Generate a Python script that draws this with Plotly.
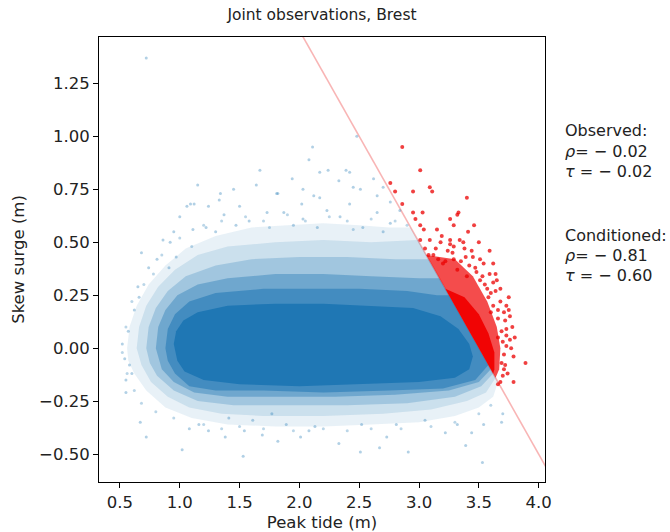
import plotly.graph_objects as go

# ---------------- data ----------------
threshold = 3.5                     # conditioning line: tide + surge = 3.5
line_x = [1.9, 4.2]

# density envelopes of the observed cloud (outer -> inner)
cloud_l1_x = [0.56, 0.58, 0.64, 0.74, 0.88, 1.05, 1.3, 1.6, 1.9, 2.2, 2.5, 2.75, 2.93, 3.66, 3.62, 3.5, 3.3, 3.0, 2.6, 2.2, 1.8, 1.4, 1.1, 0.88, 0.72, 0.62, 0.57]
cloud_l1_y = [0.0, 0.1, 0.2, 0.3, 0.39, 0.47, 0.53, 0.57, 0.58, 0.59, 0.58, 0.57, 0.57, -0.16, -0.23, -0.28, -0.32, -0.35, -0.36, -0.37, -0.37, -0.36, -0.33, -0.28, -0.2, -0.12, -0.06]
cloud_l2_x = [0.64, 0.66, 0.72, 0.82, 0.96, 1.15, 1.4, 1.8, 2.2, 2.6, 2.99, 3.64, 3.56, 3.4, 3.1, 2.7, 2.2, 1.7, 1.35, 1.08, 0.9, 0.76, 0.68]
cloud_l2_y = [0.0, 0.1, 0.2, 0.29, 0.37, 0.44, 0.48, 0.5, 0.51, 0.5, 0.51, -0.14, -0.21, -0.25, -0.29, -0.31, -0.32, -0.32, -0.31, -0.28, -0.23, -0.16, -0.08]
cloud_l3_x = [0.72, 0.74, 0.8, 0.9, 1.05, 1.3, 1.6, 2.0, 2.4, 2.8, 3.08, 3.62, 3.52, 3.3, 2.9, 2.4, 1.9, 1.45, 1.15, 0.95, 0.81, 0.75]
cloud_l3_y = [0.0, 0.1, 0.19, 0.27, 0.34, 0.39, 0.42, 0.43, 0.43, 0.42, 0.42, -0.12, -0.18, -0.23, -0.26, -0.27, -0.27, -0.27, -0.25, -0.2, -0.13, -0.07]
cloud_l4_x = [0.8, 0.82, 0.88, 0.98, 1.15, 1.4, 1.8, 2.2, 2.6, 3.0, 3.17, 3.6, 3.5, 3.25, 2.8, 2.3, 1.8, 1.4, 1.12, 0.95, 0.85]
cloud_l4_y = [0.0, 0.1, 0.18, 0.25, 0.3, 0.33, 0.35, 0.35, 0.34, 0.33, 0.33, -0.1, -0.16, -0.2, -0.22, -0.23, -0.23, -0.23, -0.21, -0.16, -0.1]
cloud_l5_x = [0.88, 0.9, 0.96, 1.08, 1.3, 1.7, 2.1, 2.5, 2.9, 3.15, 3.25, 3.58, 3.47, 3.2, 2.75, 2.2, 1.7, 1.3, 1.08, 0.96, 0.9]
cloud_l5_y = [0.0, 0.09, 0.16, 0.22, 0.26, 0.28, 0.28, 0.28, 0.27, 0.25, 0.25, -0.08, -0.15, -0.19, -0.2, -0.21, -0.2, -0.2, -0.18, -0.12, -0.06]
cloud_l6_x = [0.95, 0.97, 1.03, 1.15, 1.4, 1.8, 2.2, 2.6, 2.95, 3.18, 3.33, 3.42, 3.45, 3.42, 3.3, 3.0, 2.5, 2.0, 1.5, 1.2, 1.04, 0.98]
cloud_l6_y = [0.02, 0.08, 0.13, 0.17, 0.2, 0.21, 0.21, 0.2, 0.19, 0.15, 0.09, 0.02, -0.04, -0.1, -0.14, -0.16, -0.17, -0.18, -0.17, -0.15, -0.11, -0.06]

# sparse observed points (outside the dense cloud)
obs_x = [0.72, 2.11, 2.08, 1.67, 1.94, 1.15, 1.64, 2.17, 2.24, 2.39, 2.42, 2.33, 2.62, 1.45, 1.34, 1.81,
         2.03, 2.17, 2.12, 1.09, 1.00, 0.92, 0.86, 2.70, 2.76, 2.65, 2.45, 2.84, 2.51, 0.68, 0.65, 1.06,
         1.12, 0.81, 0.74, 1.24, 1.33, 1.50, 0.91, 0.97, 0.66, 1.11, 1.22, 1.37, 1.82, 2.02, 2.23, 2.42,
         2.65, 1.73, 1.87, 2.34, 2.76, 2.03, 2.53, 2.48, 1.58, 1.47, 1.95, 2.15, 2.70, 1.30, 0.95,
         0.55, 0.55, 0.67, 0.72, 1.02, 1.53, 1.24, 1.38, 1.54, 1.69, 1.82, 2.01, 1.08, 1.16, 1.89, 2.08,
         1.61, 1.41, 1.77, 0.58, 2.33, 2.51, 2.67, 2.91, 3.39, 3.53, 2.73, 3.22, 2.13, 2.52, 3.05, 3.44,
         3.70, 3.69, 3.54, 2.81, 3.32, 0.52, 0.57, 0.60, 0.62, 0.54]
obs_y = [1.37, 0.95, 0.89, 0.84, 0.80, 0.77, 0.77, 0.83, 0.84, 0.84, 0.83, 0.79, 0.80, 0.75, 0.73, 0.73,
         0.75, 0.71, 0.72, 0.68, 0.62, 0.50, 0.51, 0.76, 0.69, 0.72, 0.76, 0.65, 0.75, 0.45, 0.29, 0.67,
         0.68, 0.42, 0.38, 0.67, 0.70, 0.67, 0.38, 0.43, 0.24, 0.56, 0.57, 0.63, 0.73, 0.68, 0.65, 0.68,
         0.64, 0.64, 0.64, 0.62, 0.59, 0.61, 0.57, 1.00, 0.60, 0.58, 0.58, 0.57, 0.55, 0.55, 0.55,
         -0.21, -0.15, -0.35, -0.42, -0.48, -0.51, -0.39, -0.42, -0.39, -0.41, -0.44, -0.42, -0.38, -0.36, -0.36, -0.39,
         -0.34, -0.33, -0.31, -0.08, -0.45, -0.49, -0.47, -0.49, -0.46, -0.54, -0.42, -0.40, -0.37, -0.36, -0.34, -0.40,
         -0.31, -0.35, -0.36, -0.36, -0.36, 0.02, 0.08, -0.12, 0.18, -0.05]

# observed points along the edge of the halo
edge_x = [1.00, 1.20, 1.35, 1.55, 1.70, 1.90, 2.05, 2.25, 2.40, 2.60, 2.80, 1.10, 0.85, 0.78, 0.70, 2.90, 2.45, 1.75,
          0.80, 0.95, 1.20, 1.35, 1.50, 1.70, 1.95, 2.20, 2.40, 2.60, 2.85, 3.10, 3.30, 3.50, 3.60,
          0.60, 0.55, 0.52, 0.56, 0.62, 0.68]
edge_y = [0.52, 0.58, 0.60, 0.62, 0.60, 0.63, 0.60, 0.62, 0.60, 0.61, 0.60, 0.48, 0.44, 0.35, 0.30, 0.58, 0.56, 0.57,
          -0.30, -0.33, -0.36, -0.38, -0.37, -0.38, -0.39, -0.38, -0.39, -0.38, -0.38, -0.37, -0.35, -0.31, -0.27,
          0.22, 0.10, -0.02, -0.12, -0.20, -0.26]

# conditioned (tide + surge > threshold) density envelopes
cond_r1_x = [3.06, 3.3, 3.45, 3.57, 3.65, 3.68, 3.67, 3.64]
cond_r1_y = [0.44, 0.42, 0.34, 0.22, 0.1, 0.0, -0.1, -0.14]
cond_r2_x = [3.22, 3.38, 3.5, 3.58, 3.63, 3.63, 3.62]
cond_r2_y = [0.28, 0.24, 0.16, 0.07, -0.02, -0.1, -0.12]

# sparse conditioned points
cond_x = [2.86, 3.01, 2.76, 2.80, 2.95, 3.09, 3.11, 3.40, 2.86, 2.95, 3.03, 3.32, 3.26, 3.29, 3.46, 2.97,
          3.01, 3.04, 3.41, 3.15, 3.19, 3.18, 3.09, 3.26, 3.37, 3.50, 3.59, 3.33, 3.44, 3.29, 3.51, 3.62,
          3.65, 3.64, 3.75, 3.75, 3.78, 3.80, 3.89, 3.79, 3.71, 3.73, 3.01, 3.26, 3.39, 3.29, 3.54, 3.47,
          3.59, 3.51, 3.62, 3.64, 3.57, 3.68, 3.71, 3.72, 3.66, 3.73, 3.76, 3.73, 3.79, 3.20, 3.32, 3.40,
          3.34, 3.70, 3.68, 3.74, 3.66,
          3.12, 3.16, 3.22, 3.28, 3.35, 3.42, 3.48, 3.55, 3.60, 3.62, 3.66, 3.69, 3.70, 3.71, 3.69, 3.66,
          3.60, 3.58, 3.53, 3.45, 3.38, 3.24, 3.14, 3.05, 3.08, 3.68, 3.73, 3.77, 3.72, 3.76]
cond_y = [0.95, 0.84, 0.78, 0.74, 0.74, 0.76, 0.74, 0.71, 0.68, 0.64, 0.64, 0.63, 0.61, 0.58, 0.58, 0.61,
          0.58, 0.56, 0.55, 0.56, 0.53, 0.50, 0.51, 0.51, 0.50, 0.50, 0.46, 0.64, 0.46, 0.48, 0.42, 0.40,
          0.32, 0.35, 0.24, 0.18, 0.10, 0.05, -0.07, -0.16, -0.10, 0.20, 0.51, 0.49, 0.43, 0.42, 0.40, 0.38,
          0.35, 0.32, 0.31, 0.27, 0.28, 0.22, 0.17, 0.13, 0.14, 0.09, 0.04, 0.01, -0.04, 0.40, 0.37, 0.34,
          0.51, -0.13, -0.16, -0.12, -0.17,
          0.44, 0.42, 0.41, 0.45, 0.41, 0.39, 0.36, 0.30, 0.26, 0.20, 0.18, 0.08, 0.03, -0.03, -0.07, 0.05,
          0.17, 0.24, 0.34, 0.43, 0.47, 0.46, 0.47, 0.47, 0.44, 0.28, 0.06, 0.00, -0.08, 0.15]

x_ticks = [0.5, 1.0, 1.5, 2.0, 2.5, 3.0, 3.5, 4.0]
y_ticks = [-0.5, -0.25, 0.0, 0.25, 0.5, 0.75, 1.0, 1.25]

stats_lines = ["Observed:", "<i>ρ</i>= − 0.02", "<i>τ</i> = − 0.02",
               "Conditioned:", "<i>ρ</i>= − 0.81", "<i>τ</i> = − 0.60"]

# ---------------- figure ----------------
BLUE = "31,119,180"
FONT = "DejaVu Sans"
TXT = "#222"
fig = go.Figure()

line_y = [threshold - v for v in line_x]
fig.add_trace(go.Scatter(x=line_x, y=line_y, mode="lines",
                         line=dict(color="rgba(240,90,90,0.45)", width=1.6), hoverinfo="skip"))

layers = [(cloud_l1_x, cloud_l1_y, 0.10), (cloud_l2_x, cloud_l2_y, 0.14),
          (cloud_l3_x, cloud_l3_y, 0.24), (cloud_l4_x, cloud_l4_y, 0.38),
          (cloud_l5_x, cloud_l5_y, 0.55), (cloud_l6_x, cloud_l6_y, 1.0)]
for (cx, cy, op) in layers:
    fig.add_trace(go.Scatter(x=cx, y=cy, mode="lines", fill="toself", line=dict(width=0),
                             fillcolor=f"rgba({BLUE},{op})", hoverinfo="skip"))

fig.add_trace(go.Scatter(x=edge_x, y=edge_y, mode="markers",
                         marker=dict(size=3, color=f"rgba({BLUE},0.3)", line=dict(width=0)), hoverinfo="skip"))
fig.add_trace(go.Scatter(x=obs_x, y=obs_y, mode="markers",
                         marker=dict(size=3, color=f"rgba({BLUE},0.35)", line=dict(width=0)), hoverinfo="skip"))

for (cx, cy, op) in [(cond_r1_x, cond_r1_y, 0.7), (cond_r2_x, cond_r2_y, 0.95)]:
    fig.add_trace(go.Scatter(x=cx, y=cy, mode="lines", fill="toself", line=dict(width=0),
                             fillcolor=f"rgba(240,0,0,{op})", hoverinfo="skip"))

fig.add_trace(go.Scatter(x=cond_x, y=cond_y, mode="markers",
                         marker=dict(size=4, color="rgba(235,0,0,0.75)", line=dict(width=0)), hoverinfo="skip"))

line_pos = [0.790, 0.743, 0.698, 0.553, 0.510, 0.465]
for txt, yp in zip(stats_lines, line_pos):
    fig.add_annotation(text=txt, xref="paper", yref="paper", x=1.04, y=yp, xanchor="left", yanchor="middle",
                       showarrow=False, font=dict(family=FONT, size=16, color=TXT))

axis_common = dict(showgrid=False, zeroline=False, showline=True, linecolor="black", linewidth=1,
                   mirror=True, ticks="outside", ticklen=5, tickcolor="black", tickwidth=1,
                   automargin=False, tickfont=dict(family=FONT, size=16.5, color=TXT))

fig.update_layout(
    width=670, height=532,
    margin=dict(l=99, r=125, t=37, b=50),
    paper_bgcolor="white", plot_bgcolor="white",
    showlegend=False,
    title=dict(text="Joint observations, Brest", x=(99 + 223) / 670, xanchor="center",
               y=1 - 15 / 532, yanchor="middle", font=dict(family=FONT, size=15.5, color=TXT)),
    xaxis=dict(range=[0.325, 4.053], tickvals=x_ticks, tickformat=".1f",
               title=dict(text="Peak tide (m)", font=dict(family=FONT, size=16.5, color=TXT), standoff=8),
               **axis_common),
    yaxis=dict(range=[-0.632, 1.469], tickvals=y_ticks, tickformat=".2f",
               title=dict(text="Skew surge (m)", font=dict(family=FONT, size=16.5, color=TXT), standoff=10),
               **axis_common),
)

fig.write_html("out.html")
